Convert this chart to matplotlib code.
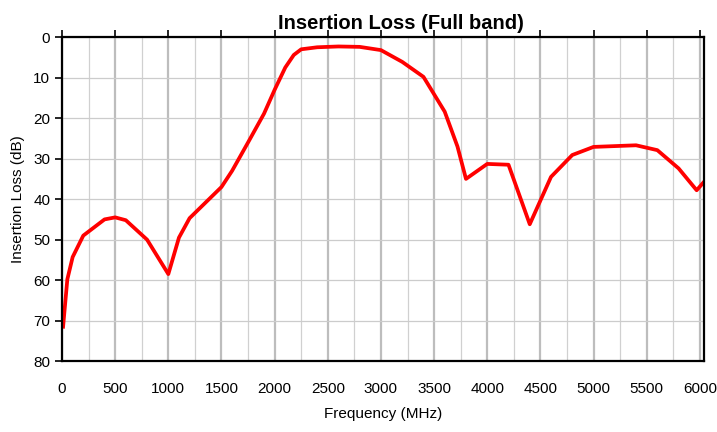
import matplotlib.pyplot as plt
from matplotlib.ticker import MultipleLocator

plt.rcParams['font.family'] = ['Liberation Sans', 'DejaVu Sans']

freq = [10, 50, 100, 200, 400, 500, 600, 800, 1000, 1100, 1200, 1500, 1600,
        1750, 1900, 2000, 2100, 2180, 2250, 2400, 2600, 2800, 3000, 3200,
        3400, 3600, 3720, 3800, 4000, 4200, 4400, 4600, 4800, 5000, 5400,
        5600, 5800, 5970, 6040]
loss = [71.5, 59.8, 54.3, 49.0, 45.0, 44.5, 45.2, 50.0, 58.5, 49.5, 44.7,
        37.0, 33.0, 26.0, 18.9, 13.0, 7.5, 4.4, 3.0, 2.5, 2.3, 2.4, 3.2,
        6.1, 9.8, 18.4, 27.0, 35.0, 31.3, 31.5, 46.2, 34.5, 29.1, 27.1,
        26.7, 27.9, 32.4, 37.8, 35.7]

fig = plt.figure(figsize=(7.17, 4.32), dpi=100)
ax = fig.add_axes([0.0865, 0.164, 0.8955, 0.750])

ax.plot(freq, loss, color='#ff0000', linewidth=2.7, solid_joinstyle='round')

ax.set_xlim(0, 6040)
ax.set_ylim(80, 0)
ax.xaxis.set_major_locator(MultipleLocator(500))
ax.xaxis.set_minor_locator(MultipleLocator(250))
ax.yaxis.set_major_locator(MultipleLocator(10))

ax.grid(which='major', axis='x', color='#bdbdbd', linewidth=1.6)
ax.grid(which='minor', axis='x', color='#d0d0d0', linewidth=0.9)
ax.grid(which='major', axis='y', color='#cccccc', linewidth=0.9)
ax.set_axisbelow(True)

ax.tick_params(axis='x', which='major', top=True, bottom=False,
               labeltop=False, labelbottom=True, direction='out',
               length=5, width=1.2, labelsize=11, pad=10)
ax.tick_params(axis='x', which='minor', top=False, bottom=False)
ax.tick_params(axis='y', direction='out', length=5, width=1.2,
               labelsize=11)

for s in ax.spines.values():
    s.set_linewidth(1.6)
    s.set_color('black')

ax.set_title('Insertion Loss (Full band)', fontsize=14.5, fontweight='bold',
             pad=6, x=0.528)
ax.set_xlabel('Frequency (MHz)', fontsize=11, labelpad=8)
ax.set_ylabel('Insertion Loss (dB)', fontsize=11, labelpad=6)

fig.savefig('out.png', dpi=100)
